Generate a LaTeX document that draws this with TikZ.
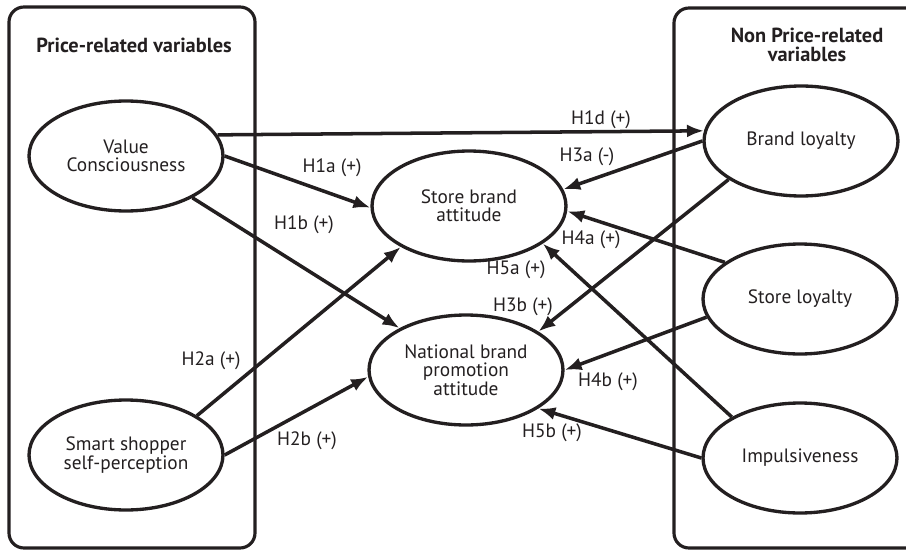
\documentclass[tikz,border=0pt]{standalone}
\usepackage{fontspec}
\setmainfont{PT Sans}
\usepackage{xcolor}
\usetikzlibrary{arrows.meta, shapes.geometric}
\definecolor{ink}{HTML}{231F20}
\tikzset{
    >={Latex[length=0.34cm, width=0.26cm]},
    every node/.style={text=ink},
    construct/.style={draw=ink, ellipse, line width=1.9pt, minimum width=3.88cm, minimum height=2.2cm,
        inner sep=0pt, align=center, font=\fontsize{11}{10.5}\selectfont},
    varbox/.style={draw=ink, line width=1.8pt, rounded corners=0.3cm},
    boxtitle/.style={align=center, font=\fontsize{11.6}{10.5}\selectfont\bfseries},
    hypo/.style={->, draw=ink, line width=2pt},
    hlabel/.style={inner sep=1pt, font=\fontsize{11}{12}\selectfont},
}

\begin{document}
\begin{tikzpicture}[x=0.02cm, y=-0.02cm]
    \useasboundingbox (0,0) rectangle (906,551);
    % variable groups
    \draw[varbox] (9,7) rectangle (255,548);
    \draw[varbox] (906,8) -- (674,8) -- (674,548) -- (906,548);
    \node[boxtitle] (tprice) at (134,45) {Price-related variables};
    \node[boxtitle] (tnonprice) at (807,45) {Non Price-related\\variables};
    % constructs
    \node[construct] (VC) at (126,156) {Value\\Consciousness};
    \node[construct] (SS) at (126,455) {Smart shopper\\self-perception};
    \node[construct] (SB) at (469,206) {Store brand\\attitude};
    \node[construct] (NB) at (466,370) {National brand\\promotion\\attitude};
    \node[construct] (BL) at (801,141) {Brand loyalty};
    \node[construct] (SL) at (800,299) {Store loyalty};
    \node[construct] (IM) at (800,458) {Impulsiveness};
    % hypotheses
    \draw[hypo] (VC.13) -- (BL.174);
    \draw[hypo] (VC.east) -- (SB.181);
    \draw[hypo] (VC) -- (NB);
    \draw[hypo] (SS.29) -- (SB.211);
    \draw[hypo] (SS.east) -- (NB.184);
    \draw[hypo] (BL.west) -- (SB.10);
    \draw[hypo] (BL.208) -- (NB.28);
    \draw[hypo] (SL.154) -- (SB.357);
    \draw[hypo] (SL.191) -- (NB.east);
    \draw[hypo] (IM.149) -- (SB.333);
    \draw[hypo] (IM.west) -- (NB.332);
    \node[hlabel] (h1a) at (332,168) {H1a (+)};
    \node[hlabel] (h1b) at (304,225) {H1b (+)};
    \node[hlabel] (h1d) at (601,120) {H1d (+)};
    \node[hlabel] (h2a) at (211,361) {H2a (+)};
    \node[hlabel] (h2b) at (307,441) {H2b (+)};
    \node[hlabel] (h3a) at (587,157) {H3a (-)};
    \node[hlabel] (h3b) at (523,307) {H3b (+)};
    \node[hlabel] (h4a) at (591,240) {H4a (+)};
    \node[hlabel] (h4b) at (608,382) {H4b (+)};
    \node[hlabel] (h5a) at (516,270) {H5a (+)};
    \node[hlabel] (h5b) at (552,433) {H5b (+)};
\end{tikzpicture}
\end{document}
